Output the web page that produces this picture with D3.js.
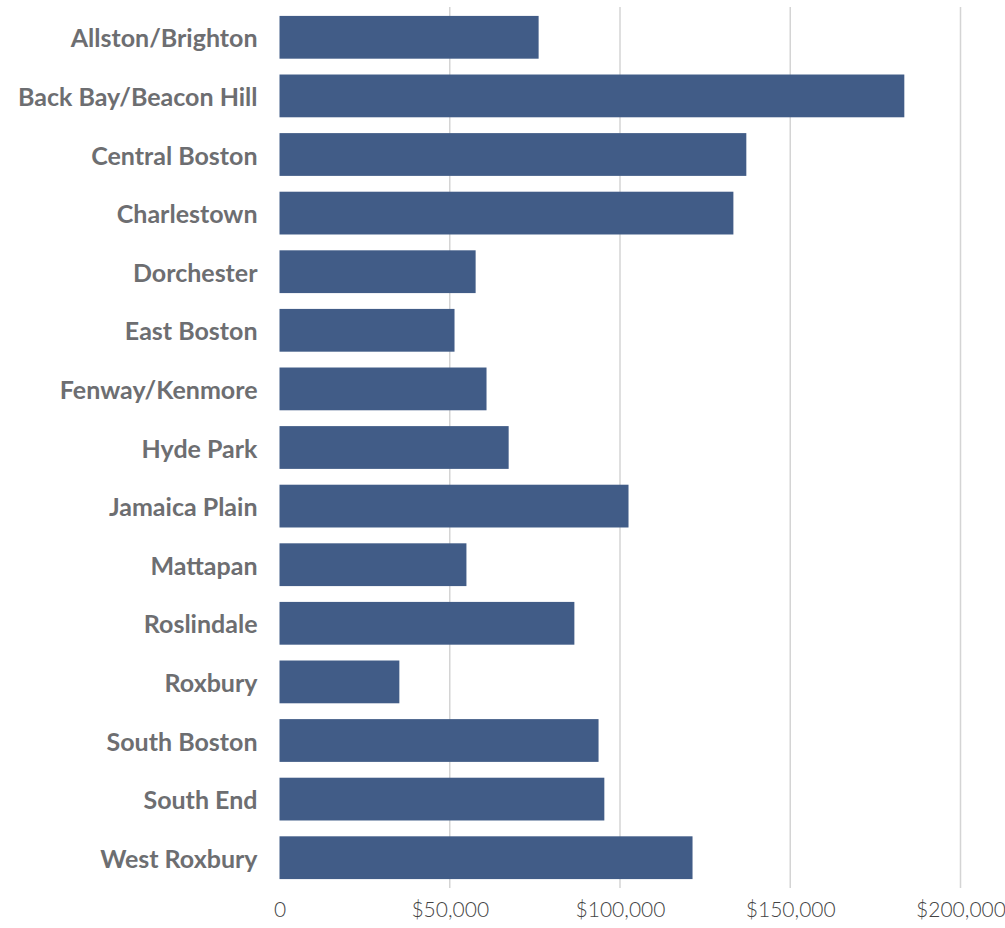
<!DOCTYPE html>
<html>
<head>
<meta charset="utf-8">
<script src="https://cdn.jsdelivr.net/npm/d3@7"></script>
<style>
  body { margin: 0; background: #fff; }
  .ylab text { font-family: Lato, "Open Sans", sans-serif; font-weight: 700; font-size: 25px; fill: #6d6e71; }
  .xlab text { font-family: Lato, "Open Sans", sans-serif; font-weight: 300; font-size: 21px; fill: #444; }
</style>
</head>
<body>
<svg id="chart" width="1005" height="928"></svg>
<script>
// median household income by neighborhood
const neighborhoods = ["Allston/Brighton", "Back Bay/Beacon Hill", "Central Boston", "Charlestown",
  "Dorchester", "East Boston", "Fenway/Kenmore", "Hyde Park", "Jamaica Plain", "Mattapan",
  "Roslindale", "Roxbury", "South Boston", "South End", "West Roxbury"];
const income = [76100, 183500, 137100, 133300, 57600, 51400, 60800, 67300, 102500, 54900,
  86600, 35200, 93700, 95400, 121300];
const ticks = [0, 50000, 100000, 150000, 200000];

const svg = d3.select("#chart");

const x = d3.scaleLinear().domain([0, 200000]).range([279.5, 960.5]);
const y = d3.scaleBand().domain(neighborhoods).range([8, 887]).paddingInner(0.27).paddingOuter(0.135);

// gridlines
svg.append("g").selectAll("line")
  .data(ticks.slice(1))
  .enter().append("line")
  .attr("x1", d => x(d)).attr("x2", d => x(d))
  .attr("y1", 7).attr("y2", 888)
  .attr("stroke", "#d4d4d4").attr("stroke-width", 1.5);

svg.append("g").selectAll("rect")
  .data(neighborhoods)
  .enter().append("rect")
  .attr("x", x(0))
  .attr("y", d => y(d))
  .attr("width", (d, i) => x(income[i]) - x(0))
  .attr("height", y.bandwidth())
  .attr("fill", "#415c87");

const yAxis = svg.append("g").attr("class", "ylab")
  .attr("transform", "translate(" + x(0) + ",2)")
  .call(d3.axisLeft(y).tickSize(0).tickPadding(22));
yAxis.select(".domain").remove();

const fmt = d => d === 0 ? "0" : "$" + d3.format(",")(d);
const xAxis = svg.append("g").attr("class", "xlab")
  .attr("transform", "translate(0,899)")
  .call(d3.axisBottom(x).tickValues(ticks).tickSize(0).tickFormat(fmt));
xAxis.select(".domain").remove();
</script>
</body>
</html>
